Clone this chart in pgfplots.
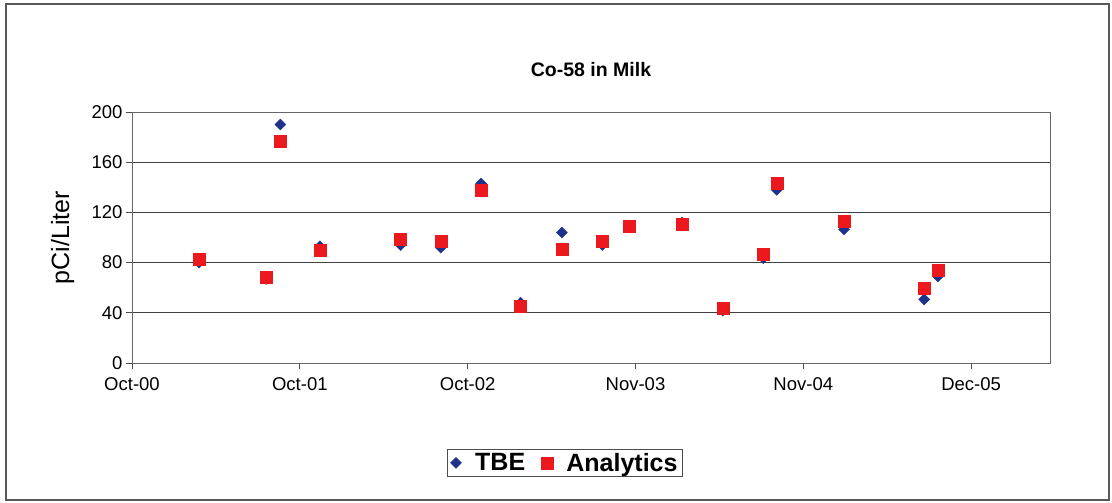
\documentclass[border=0pt]{standalone}
\usepackage{pgfplots}
\pgfplotsset{compat=1.18}
\usepackage{fontspec}
\setmainfont{Liberation Sans}
\definecolor{tbe}{RGB}{30,50,140}
\definecolor{ana}{RGB}{235,25,30}
\begin{document}
\begin{tikzpicture}
\path[use as bounding box] (0,0) rectangle (1112bp,503bp);
\draw[gray!70!black, line width=1.2bp] (6bp,3bp) rectangle (1109bp,499bp);
\node[font=\bfseries\fontsize{19.5bp}{22bp}\selectfont] at (591bp,433bp) {Co-58 in Milk};
\begin{axis}[
  at={(132bp,140bp)}, anchor=south west,
  scale only axis, width=918bp, height=251bp,
  xmin=0, xmax=5.47, ymin=0, ymax=200,
  xtick={0,1,2,3,4,5},
  xticklabels={Oct-00,Oct-01,Oct-02,Nov-03,Nov-04,Dec-05},
  ytick={0,40,80,120,160,200},
  tick align=outside, tick pos=left,
  major tick length=6bp,
  ymajorgrids, grid style={black!75, line width=0.8bp},
  axis line style={black!60, line width=0.8bp},
  tick style={black!70, line width=0.8bp},
  ticklabel style={font=\fontsize{18.5bp}{22bp}\selectfont},
  xticklabel style={yshift=-5bp},
  /pgf/number format/assume math mode=true,
  ylabel={pCi/Liter},
  ylabel style={font=\fontsize{25bp}{28bp}\selectfont,
    at={(axis description cs:-0.0755,0.5)}, anchor=center},
  legend style={at={(0.4717,-0.398)}, anchor=center, draw=black!70,
    font=\bfseries\fontsize{25bp}{28bp}\selectfont, legend columns=2,
    inner xsep=3bp, inner ysep=1.5bp,
    /tikz/every even column/.append style={column sep=14bp}},
  legend image code/.code={%
    \node[inner sep=0pt, minimum width=18bp, minimum height=2bp, draw=none, fill=none] at (9bp,0bp) {};
    \draw[#1, only marks] plot coordinates {(10bp,0bp)};},
  legend cell align=left,
]
\addplot[only marks, mark=diamond*, mark size=5.5bp, color=tbe,
  mark options={xscale=1.33}] coordinates {
(0.399,80) (0.799,67) (0.884,190) (1.120,93) (1.601,94) (1.840,92)
(2.080,143) (2.316,48) (2.561,104) (2.803,94) (2.962,108.6) (3.278,112)
(3.520,41.7) (3.762,83.4) (3.842,138) (4.243,106.5) (4.720,50.7) (4.802,69)
};
\addlegendentry{TBE}
\addplot[only marks, mark=square*, mark size=6bp, color=ana] coordinates {
(0.399,82.6) (0.799,68) (0.884,177) (1.120,90) (1.601,99) (1.840,97)
(2.080,138) (2.316,45.4) (2.561,91) (2.803,97) (2.962,109) (3.278,110.5)
(3.520,43.6) (3.762,86.6) (3.842,143) (4.243,112.6) (4.720,59.5) (4.802,74)
};
\addlegendentry{Analytics}
\end{axis}
\end{tikzpicture}
\end{document}
